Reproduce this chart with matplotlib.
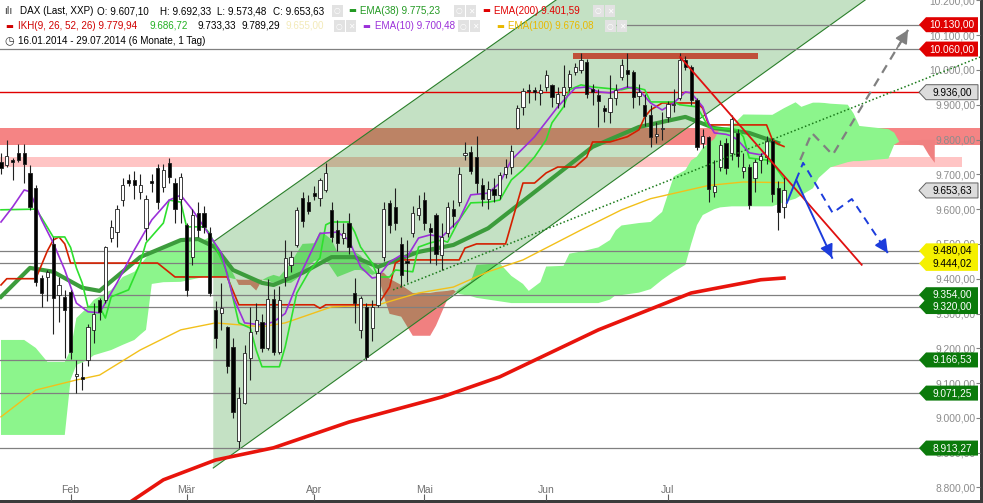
import matplotlib.pyplot as plt
from matplotlib.path import Path

plt.rcParams['font.family'] = ['Liberation Sans', 'DejaVu Sans']

# ---- DAX daily candles, trading days 16.01.2014 .. 29.07.2014 (index 0..135) ----
opens = [9735, 9727, 9741, 9761, 9761, 9704, 9661, 9402, 9405, 9500,
         9353, 9348, 9362, 9120, 9118, 9167, 9253, 9339, 9339, 9517,
         9534, 9626, 9684, 9684, 9650, 9545, 9680, 9718, 9664, 9733,
         9675, 9630, 9555, 9462, 9589, 9589, 9532, 9310, 9302, 9261,
         9204, 8935, 9043, 9172, 9250, 9277, 9200, 9342, 9190, 9405,
         9440, 9497, 9632, 9620, 9646, 9632, 9655, 9598, 9540, 9517,
         9560, 9359, 9253, 9319, 9259, 9325, 9462, 9618, 9606, 9500,
         9450, 9532, 9583, 9626, 9545, 9583, 9467, 9530, 9600, 9621,
         9755, 9765, 9750, 9670, 9630, 9659, 9640, 9700, 9720, 9833,
         9894, 9941, 9940, 9935, 9951, 9957, 9905, 9928, 9951, 9995,
         10000, 10023, 9945, 9928, 9890, 9880, 9920, 9980, 10000, 9994,
         9925, 9900, 9871, 9810, 9830, 9865, 9900, 9920, 10029, 10009,
         9914, 9790, 9808, 9650, 9721, 9790, 9762, 9819, 9710, 9721,
         9690, 9740, 9750, 9797, 9660, 9607.10]
highs = [9762, 9799, 9747, 9787, 9787, 9727, 9670, 9410, 9425, 9520,
         9405, 9368, 9368, 9167, 9160, 9270, 9330, 9345, 9495, 9570,
         9612, 9690, 9700, 9710, 9700, 9640, 9700, 9730, 9730, 9747,
         9690, 9705, 9560, 9600, 9620, 9610, 9550, 9335, 9388, 9265,
         9230, 9090, 9210, 9319, 9330, 9300, 9400, 9370, 9380, 9510,
         9480, 9605, 9650, 9640, 9665, 9690, 9733, 9620, 9570, 9560,
         9590, 9402, 9350, 9330, 9339, 9430, 9620, 9625, 9660, 9520,
         9510, 9610, 9640, 9650, 9560, 9590, 9560, 9620, 9625, 9720,
         9793, 9780, 9810, 9690, 9680, 9690, 9707, 9745, 9785, 9900,
         9947, 9960, 9950, 9960, 10000, 9960, 9950, 10015, 10000, 10020,
         10050, 10030, 9960, 9945, 9900, 9985, 9960, 10030, 10050, 10000,
         9960, 9930, 9900, 9850, 9880, 9910, 9945, 10050, 10040, 10015,
         9920, 9830, 9810, 9740, 9800, 9805, 9870, 9830, 9760, 9730,
         9745, 9760, 9810, 9805, 9680, 9692.33]
lows = [9700, 9720, 9684, 9735, 9676, 9598, 9380, 9320, 9335, 9240,
        9276, 9172, 9170, 9071, 9080, 9150, 9215, 9280, 9330, 9505,
        9491, 9610, 9665, 9630, 9630, 9512, 9650, 9600, 9650, 9675,
        9560, 9560, 9350, 9440, 9520, 9530, 9350, 9200, 9253, 9130,
        9000, 8913, 9040, 9109, 9240, 9190, 9195, 9180, 9185, 9380,
        9420, 9490, 9550, 9585, 9625, 9610, 9650, 9506, 9480, 9500,
        9470, 9273, 9230, 9167, 9220, 9320, 9450, 9530, 9540, 9376,
        9390, 9520, 9570, 9540, 9445, 9440, 9425, 9520, 9550, 9610,
        9740, 9700, 9646, 9610, 9600, 9620, 9630, 9690, 9700, 9830,
        9870, 9905, 9915, 9900, 9940, 9894, 9890, 9894, 9940, 9985,
        9990, 9920, 9900, 9836, 9850, 9848, 9900, 9970, 9950, 9890,
        9900, 9840, 9779, 9790, 9800, 9850, 9880, 9915, 10000, 9900,
        9770, 9775, 9620, 9635, 9710, 9700, 9740, 9720, 9690, 9600,
        9650, 9705, 9730, 9620, 9540, 9573.48]
closes = [9718, 9753, 9735, 9742, 9730, 9606, 9390, 9360, 9420, 9345,
          9382, 9310, 9190, 9127, 9112, 9261, 9300, 9305, 9491, 9549,
          9600, 9670, 9676, 9668, 9670, 9630, 9675, 9620, 9713, 9693,
          9600, 9692, 9368, 9583, 9540, 9550, 9360, 9230, 9316, 9150,
          9017, 9056, 9187, 9247, 9280, 9200, 9342, 9190, 9338, 9460,
          9462, 9598, 9565, 9595, 9637, 9684, 9705, 9520, 9503, 9530,
          9491, 9330, 9345, 9175, 9319, 9417, 9601, 9555, 9560, 9410,
          9445, 9590, 9603, 9560, 9535, 9470, 9521, 9607, 9581, 9702,
          9760, 9710, 9675, 9630, 9659, 9640, 9697, 9720, 9768, 9892,
          9940, 9939, 9938, 9943, 9985, 9922, 9930, 9951, 9987, 10008,
          10028, 9930, 9938, 9912, 9883, 9920, 9942, 10015, 9987, 9922,
          9938, 9868, 9808, 9815, 9833, 9902, 9902, 10029, 10009, 9914,
          9779, 9810, 9659, 9666, 9783, 9719, 9859, 9753, 9720, 9613,
          9734, 9753, 9797, 9644, 9592, 9653.63]

month_idx = [12, 32, 54, 73, 94, 115]
month_lbl = ['Feb', 'Mär', 'Apr', 'Mai', 'Jun', 'Jul']

# ---- indicators (day index, value) ----
ema10_x = [0, 2, 4, 5, 7, 9, 11, 13, 15, 17, 20, 23, 26, 29, 31, 33, 35, 38, 40, 42,
           45, 47, 49, 52, 55, 58, 60, 62, 64, 65, 67, 69, 70, 72, 74, 76, 79, 81, 84, 86,
           88, 92, 96, 99, 101, 103, 105, 108, 110, 112, 114, 116, 118, 119, 121, 122, 123, 125, 126, 127,
           129, 131, 132]
ema10_y = [9563, 9606, 9655, 9650, 9569, 9503, 9425, 9330, 9305, 9302, 9388, 9483, 9569, 9626, 9640, 9598, 9549, 9474, 9348, 9273,
           9267, 9276, 9300, 9425, 9530, 9534, 9511, 9434, 9402, 9405, 9448, 9468, 9462, 9517, 9526, 9520, 9569, 9641, 9646, 9675,
           9741, 9808, 9894, 9948, 9951, 9937, 9934, 9951, 9943, 9905, 9885, 9905, 9937, 9934, 9894, 9848, 9819, 9815, 9810, 9799,
           9762, 9756, 9764]
ema38_x = [0, 5, 9, 14, 17, 24, 31, 34, 37, 40, 45, 47, 52, 57, 61, 65, 72, 78, 84, 94,
           102, 110, 118, 123, 129, 134]
ema38_y = [9348, 9431, 9420, 9374, 9365, 9462, 9511, 9514, 9490, 9425, 9388, 9382, 9417, 9462, 9462, 9434, 9477, 9497, 9545, 9675,
           9779, 9836, 9865, 9833, 9819, 9790]
ema100_x = [0, 6, 13, 17, 24, 31, 37, 45, 49, 57, 65, 72, 78, 84, 90, 100, 107, 112, 122, 128, 135]
ema100_y = [9003, 9080, 9109, 9123, 9195, 9253, 9273, 9262, 9273, 9319, 9325, 9359, 9376, 9420, 9454, 9540, 9598, 9630, 9668, 9678, 9676]
ema200_x = [22, 28, 37, 47, 60, 76, 86, 103, 119, 131, 135]
ema200_y = [8755, 8822, 8879, 8914, 8988, 9060, 9118, 9253, 9359, 9397, 9402]
tenkan_x = [0, 6, 7, 9, 11, 12, 13, 14, 15, 17, 18, 19, 22, 24, 25, 28, 29, 31, 32, 35,
            36, 39, 41, 43, 44, 45, 48, 49, 51, 53, 55, 56, 57, 60, 61, 62, 64, 65, 67, 68,
            71, 72, 74, 76, 77, 79, 81, 84, 86, 88, 90, 92, 94, 95, 97, 98, 100, 102, 107, 109,
            111, 112, 116, 117, 120, 122, 123, 127, 128, 129, 132, 133, 135]
tenkan_y = [9598, 9600, 9575, 9520, 9520, 9490, 9431, 9388, 9319, 9319, 9287, 9348, 9368, 9445, 9503, 9560, 9626, 9620, 9549, 9549,
            9530, 9417, 9273, 9258, 9195, 9147, 9147, 9204, 9359, 9417, 9460, 9555, 9563, 9563, 9534, 9491, 9445, 9405, 9405, 9425,
            9420, 9491, 9503, 9511, 9505, 9569, 9618, 9620, 9626, 9684, 9713, 9750, 9799, 9848, 9894, 9943, 9957, 9951, 9943, 9951,
            9943, 9908, 9908, 9900, 9894, 9836, 9833, 9828, 9808, 9747, 9741, 9733, 9687]
kijun_x = [0, 1, 6, 8, 9, 10, 11, 12, 27, 30, 39, 41, 54, 55, 56, 65, 67, 68, 69, 79,
           80, 82, 87, 90, 92, 94, 96, 99, 101, 102, 105, 108, 110, 111, 112, 114, 120, 121, 122, 132,
           133, 134, 135]
kijun_y = [9382, 9400, 9400, 9480, 9511, 9520, 9500, 9445, 9445, 9405, 9405, 9325, 9325, 9315, 9325, 9325, 9376, 9445, 9454, 9454,
           9488, 9500, 9500, 9675, 9675, 9704, 9721, 9721, 9750, 9793, 9793, 9808, 9828, 9865, 9885, 9905, 9905, 9890, 9842, 9842,
           9799, 9787, 9780]
cloud_x = [0, 4, 6, 8, 11, 12, 13, 15, 16, 19, 21, 23, 24, 25, 26, 28, 31, 35, 36, 37,
           39, 40, 41, 43, 44, 45, 46, 47, 48, 50, 51, 52, 54, 55, 56, 57, 58, 61, 62, 64,
           65, 66, 67, 69, 71, 74, 75, 77, 78, 79, 81, 82, 86, 88, 90, 91, 93, 94, 97, 98,
           100, 103, 105, 106, 107, 110, 112, 114, 116, 118, 119, 120, 121, 123, 124, 126, 128, 133, 135, 137,
           138, 140, 141, 142, 143, 146, 147, 148, 153, 154, 155, 159, 160, 161]
span_a = [9224, 9224, 9201, 9161, 9161, 9195, 9287, 9319, 9339, 9368, 9405, 9420, 9440, 9460, 9480, 9488, 9506, 9511, 9520, 9483,
          9438, 9416, 9382, 9382, 9366, 9396, 9405, 9411, 9406, 9445, 9474, 9500, 9502, 9535, 9526, 9512, 9477, 9477, 9467, 9425,
          9411, 9350, 9299, 9291, 9236, 9236, 9265, 9342, 9356, 9371, 9392, 9440, 9444, 9408, 9385, 9365, 9390, 9435, 9437, 9472,
          9478, 9490, 9511, 9539, 9553, 9560, 9563, 9592, 9694, 9712, 9740, 9751, 9776, 9802, 9832, 9839, 9872, 9871, 9890, 9907,
          9894, 9906, 9906, 9905, 9903, 9900, 9875, 9839, 9830, 9820, 9790, 9783, 9755, 9733]
span_b = [8951, 8951, 8951, 8951, 8951, 9110, 9152, 9167, 9180, 9195, 9210, 9224, 9239, 9253, 9385, 9390, 9391, 9405, 9405, 9405,
          9405, 9400, 9397, 9397, 9397, 9397, 9395, 9388, 9388, 9388, 9400, 9417, 9451, 9454, 9454, 9430, 9405, 9425, 9425, 9411,
          9417, 9417, 9400, 9382, 9359, 9359, 9362, 9365, 9368, 9356, 9350, 9345, 9335, 9330, 9330, 9330, 9330, 9330, 9330, 9330,
          9330, 9330, 9340, 9353, 9353, 9360, 9370, 9397, 9420, 9440, 9500, 9554, 9583, 9600, 9605, 9608, 9608, 9608, 9620, 9630,
          9640, 9660, 9690, 9705, 9720, 9735, 9738, 9738, 9745, 9785, 9795, 9799, 9799, 9799]

# ---- drawings (day index, price) ----
chan_lower_x, chan_lower_y = [36.6, 149.0], [8856, 10201]
chan_upper_x, chan_upper_y = [36.6, 95.7], [9506, 10201]
down_x, down_y = [117.1, 148.4], [10037, 9440]
dot_x, dot_y = [67.6, 168.8], [9368, 10037]
bar_x, bar_lo, bar_hi = [98.6, 130.5], 10032, 10050
band_dark = (9785, 9833)
band_light = (9721, 9750)
gray_path_x, gray_path_y = [137.8, 139.8, 143.4, 156.4], [9741, 9819, 9756, 10115]
blue_solid_x, blue_solid_y = [135.5, 137.1, 143.3], [9618, 9684, 9460]
blue_dash_x, blue_dash_y = [137.1, 138.3, 143.4, 146.7, 152.9], [9684, 9733, 9589, 9629, 9474]

gray_levels = [10130, 10060, 9480.04, 9444.02, 9354, 9320, 9166.53, 9071.25, 8913.27]
red_level = 9936
tags = [(10130, 'red'), (10060, 'red'), (9936, 'gray'), (9653.63, 'gray'),
        (9480.04, 'yellow'), (9444.02, 'yellow'), (9354, 'green'), (9320, 'green'),
        (9166.53, 'green'), (9071.25, 'green'), (8913.27, 'green')]


def de(v):
    s = f'{v:,.2f}'
    return s.replace(',', ' ').replace('.', ',').replace(' ', '.')


fig = plt.figure(figsize=(9.83, 5.03), dpi=100, facecolor='#3b3b3b')
ax = fig.add_axes([0, 3 / 503, 980 / 983, 500 / 503])
ax.set_facecolor('white')
ax.set_xlim(-0.17, 168.8)
ax.set_ylim(8764, 10201)
for s in ax.spines.values():
    s.set_visible(False)

# zones
ax.axhspan(*band_dark, color='#f58484', lw=0, zorder=1)
ax.axhspan(*band_light, xmax=962 / 980, color='#ffc4c4', lw=0, zorder=1)

# ichimoku cloud
up = [a >= b for a, b in zip(span_a, span_b)]
ax.fill_between(cloud_x, span_a, span_b, where=up, interpolate=True,
                color='#8cf58c', lw=0, zorder=1.2)
ax.fill_between(cloud_x, span_a, span_b, where=[not u for u in up], interpolate=True,
                color='#f08080', lw=0, zorder=1.2)

# trend channel
ax.fill([chan_lower_x[0], chan_upper_x[0], chan_upper_x[1], chan_lower_x[1]],
        [chan_lower_y[0], chan_upper_y[0], chan_upper_y[1], chan_lower_y[1]],
        color='#008000', alpha=0.23, lw=0, zorder=1.5)
ax.plot(chan_lower_x, chan_lower_y, color='#2a7f2a', lw=0.8, zorder=1.6)
ax.plot(chan_upper_x, chan_upper_y, color='#2a7f2a', lw=0.8, zorder=1.6)

# horizontal levels
for lv in gray_levels:
    x0 = 106 if lv == 10130 else -1
    ax.hlines(lv, x0, 159.5, colors='#808080', lw=0.9, zorder=2)
ax.hlines(red_level, -1, 159.5, colors='#e00000', lw=1.0, zorder=2)
ax.fill_between(bar_x, bar_lo, bar_hi, color='#c0503a', lw=0, zorder=2.2)

# indicators
ax.plot(ema100_x, ema100_y, color='#f2c01a', lw=1.0, zorder=3)
ax.plot(ema200_x, ema200_y, color='#e8140c', lw=2.6, zorder=3)
ax.plot(ema38_x, ema38_y, color='#3c9c3c', lw=3.0, zorder=3)
ax.plot(kijun_x, kijun_y, color='#d42000', lw=1.2, zorder=3.1)
ax.plot(tenkan_x, tenkan_y, color='#2ee02e', lw=1.2, zorder=3.1)
ax.plot(ema10_x, ema10_y, color='#9b30d9', lw=1.2, zorder=3.2)

# candles
days = list(range(len(closes)))
ax.vlines(days, lows, highs, colors='#202020', lw=0.8, zorder=4)
bot = [min(o, c) for o, c in zip(opens, closes)]
hgt = [max(abs(c - o), 3) for o, c in zip(opens, closes)]
fcs = ['white' if c >= o else 'black' for o, c in zip(opens, closes)]
ax.bar(days, hgt, bottom=bot, width=0.55, color=fcs, edgecolor='#202020', lw=0.6, zorder=4.1)

# trend lines and scenario arrows
ax.plot(dot_x, dot_y, color='#1a7a1a', lw=1.1, ls=(0, (1, 1.5)), zorder=5)
ax.plot(down_x, down_y, color='#e01010', lw=1.3, zorder=5)
ax.plot(gray_path_x, gray_path_y, color='#808080', lw=1.6, ls=(0, (4, 3)), zorder=5)
ax.plot(blue_solid_x, blue_solid_y, color='#1c3cdc', lw=1.4, zorder=5)
ax.plot(blue_dash_x, blue_dash_y, color='#1c3cdc', lw=1.4, ls=(0, (4, 3)), zorder=5)


def head(xs, ys, color):
    x0, y0, x1, y1 = xs[-2], ys[-2], xs[-1], ys[-1]
    ax.annotate('', xy=(x1, y1), xytext=(x1 - (x1 - x0) * 0.15, y1 - (y1 - y0) * 0.15),
                arrowprops=dict(arrowstyle='-|>,head_length=0.8,head_width=0.4', color=color,
                                lw=1.2, shrinkA=0, shrinkB=0), zorder=6)


head(gray_path_x, gray_path_y, '#808080')
head(blue_solid_x, blue_solid_y, '#1c3cdc')
head(blue_dash_x, blue_dash_y, '#1c3cdc')


# price tags on the right
def tag_shape(x0, y0, width, height, mutation_size):
    cx, cy = x0 + width / 2, y0 + height / 2
    hw, hh, tip = 26, 7.5, 7
    return Path([(cx - hw, cy - hh), (cx + hw, cy - hh), (cx + hw, cy + hh),
                 (cx - hw, cy + hh), (cx - hw - tip, cy), (cx - hw, cy - hh)], closed=True)


tag_style = {'red': ('#e00000', 'none', 'white'), 'gray': ('#dcdcdc', '#606060', 'black'),
             'yellow': ('#f5f000', 'none', 'black'), 'green': ('#0b7a0b', 'none', 'white')}
for lv, kind in tags:
    fc, ec, tc = tag_style[kind]
    ax.text(952 / 980, lv, de(lv), transform=ax.get_yaxis_transform(), ha='center', va='center',
            fontsize=7.3, color=tc, zorder=10,
            bbox=dict(boxstyle=tag_shape, fc=fc, ec=ec, lw=0.7))

# axes ticks
ax.set_yticks(range(8800, 10201, 100))
ax.set_yticklabels([de(v) for v in range(8800, 10201, 100)])
ax.yaxis.tick_right()
ax.tick_params(axis='y', direction='in', length=3, color='#808080', pad=-3.5,
               labelsize=7.4, labelcolor='#8c8c8c')
for t in ax.yaxis.get_major_ticks():
    t.label2.set_horizontalalignment('right')
ax.set_xticks(month_idx)
ax.set_xticklabels(month_lbl)
ax.tick_params(axis='x', direction='in', length=4, color='#606060', pad=-10.5,
               labelsize=7.5, labelcolor='#707070')


# header legend
def hdr(xp, yp, s, color='black', **kw):
    ax.text(xp / 980, 1 - yp / 500, s, transform=ax.transAxes, ha='left', va='center',
            fontsize=kw.pop('fontsize', 7.1), color=color, zorder=11, **kw)


def buttons(xp, yp, n):
    for k in range(n):
        ax.text((xp + k * 12) / 980, 1 - yp / 500, '✕' if k else '○', transform=ax.transAxes,
                ha='left', va='center', fontsize=5.5, color='white', family='DejaVu Sans', zorder=11,
                bbox=dict(boxstyle='square,pad=0.25', fc='#e2e2e2', ec='none'))


hdr(4, 11, 'ılı', '#303030', family='DejaVu Sans', fontsize=7)
hdr(20, 11, 'DAX (Last, XXP)')
hdr(97, 11, 'O: 9.607,10')
hdr(160, 11, 'H: 9.692,33')
hdr(217, 11, 'L: 9.573,48')
hdr(273, 11, 'C: 9.653,63')
buttons(334, 11, 1)
hdr(348, 11, '▬', '#229922', family='DejaVu Sans', fontsize=6)
hdr(360, 11, 'EMA(38) 9.775,23', '#229922')
buttons(456, 11, 2)
hdr(482, 11, '▬', '#e00000', family='DejaVu Sans', fontsize=6)
hdr(494, 11, 'EMA(200) 9.401,59', '#e00000')
buttons(595, 11, 2)

hdr(5, 26, '▬', '#d00000', family='DejaVu Sans', fontsize=6)
hdr(18, 26, 'IKH(9, 26, 52, 26) 9.779,94', '#d00000')
hdr(150, 26, '9.686,72', '#22b022')
hdr(197, 26, '9.733,33')
hdr(241, 26, '9.789,29')
hdr(285, 26, '9.655,00', '#f3eab8')
buttons(336, 26, 2)
hdr(362, 26, '▬', '#9b30d9', family='DejaVu Sans', fontsize=6)
hdr(375, 26, 'EMA(10) 9.700,48', '#9b30d9')
buttons(460, 26, 2)
hdr(496, 26, '▬', '#e8b800', family='DejaVu Sans', fontsize=6)
hdr(508, 26, 'EMA(100) 9.676,08', '#e8b800')
buttons(607, 26, 2)

hdr(4, 41, '◷', '#303030', family='DejaVu Sans', fontsize=8)
hdr(18, 41, '16.01.2014 - 29.07.2014 (6 Monate, 1 Tag)')

fig.savefig('out.png', dpi=100, facecolor=fig.get_facecolor())
